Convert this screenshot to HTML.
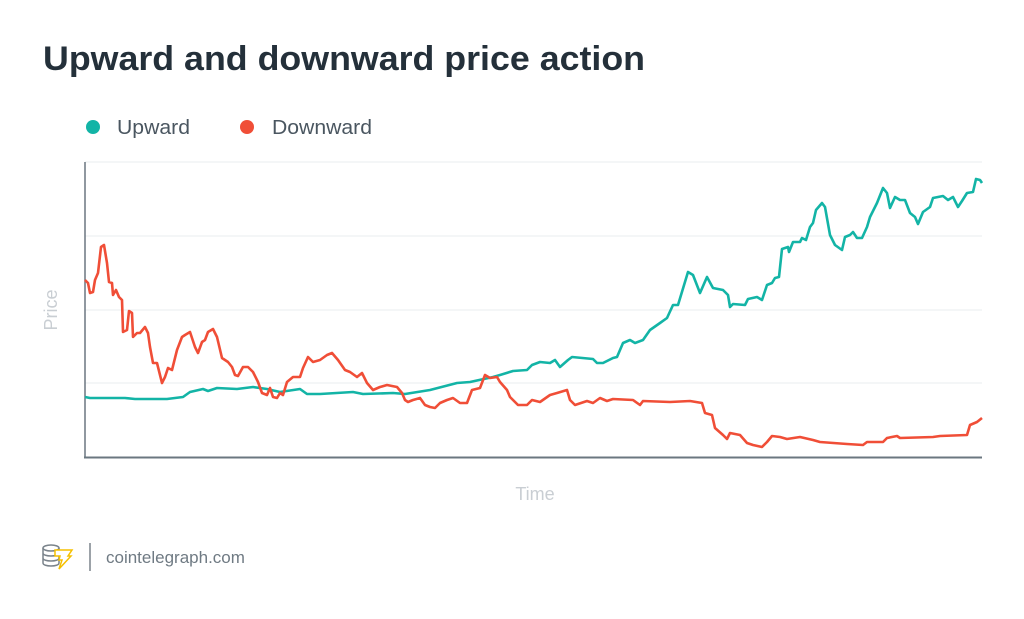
<!DOCTYPE html>
<html><head><meta charset="utf-8"><style>
body{margin:0;background:#fff;width:1024px;height:614px;overflow:hidden;font-family:"Liberation Sans",sans-serif}
</style></head><body>
<svg width="1024" height="614" viewBox="0 0 1024 614" xmlns="http://www.w3.org/2000/svg" font-family="Liberation Sans, sans-serif">
<text x="43" y="70" font-size="34" font-weight="bold" fill="#24303a" textLength="602" lengthAdjust="spacingAndGlyphs">Upward and downward price action</text>
<circle cx="93" cy="127" r="7" fill="#13b4a6"/>
<text x="117" y="134" font-size="20" fill="#4a5660" textLength="73" lengthAdjust="spacingAndGlyphs">Upward</text>
<circle cx="247" cy="127" r="7" fill="#f04e37"/>
<text x="272" y="134" font-size="20" fill="#4a5660" textLength="100" lengthAdjust="spacingAndGlyphs">Downward</text>
<g stroke="#eef0f2" stroke-width="1.2">
<line x1="85" y1="162" x2="982" y2="162"/><line x1="85" y1="236" x2="982" y2="236"/>
<line x1="85" y1="310" x2="982" y2="310"/><line x1="85" y1="383" x2="982" y2="383"/>
</g>
<line x1="85" y1="162" x2="85" y2="458" stroke="#6b7780" stroke-width="1.5"/>
<line x1="84" y1="457.5" x2="982" y2="457.5" stroke="#6b7780" stroke-width="2"/>
<text transform="translate(57,310) rotate(-90)" text-anchor="middle" font-size="18" fill="#c9ced3">Price</text>
<text x="535" y="500" text-anchor="middle" font-size="18" fill="#c9ced3">Time</text>
<polyline fill="none" stroke="#13b4a6" stroke-width="2.6" stroke-linejoin="round" points="85,397 90,398 125,398 135,399 167,399 183,397 190,392 203,389 208,391 217,388 237,389 253,387 267,389 280,392 300,389 307,394 320,394 353,392 363,394 393,393 405,394 430,390 457,383 470,382 493,377 500,375 513,371 527,370 532,365 540,362 550,363 555,360 560,367 568,360 572,357 593,359 597,363 603,363 613,358 617,357 623,343 630,340 635,343 643,340 650,330 660,323 667,318 673,305 678,305 688,272 693,275 700,293 707,277 713,288 723,290 728,295 730,307 733,304 745,305 748,299 757,297 762,300 767,285 772,283 775,278 779,277 782,249 788,247 789,252 793,242 800,242 802,238 806,240 810,227 813,223 816,210 822,203 825,207 830,235 835,245 842,250 845,237 850,235 853,232 857,238 862,238 867,227 870,217 877,203 883,188 887,193 890,208 895,197 900,200 905,200 910,213 915,217 918,224 923,212 930,207 933,198 943,196 948,200 953,197 958,207 962,201 967,193 973,192 976,179 980,180 982,183"/>
<polyline fill="none" stroke="#f04e37" stroke-width="2.6" stroke-linejoin="round" points="85,280 88,283 90,293 93,292 95,280 98,273 101,247 104,245 107,263 109,282 112,283 113,295 116,290 119,297 122,300 123,332 127,330 129,311 132,313 133,337 137,333 140,333 145,327 148,333 150,347 153,363 157,363 162,383 165,377 168,368 172,370 177,350 182,337 185,335 190,332 195,347 198,353 202,342 205,340 208,332 213,329 217,337 222,358 225,360 228,362 232,367 235,375 238,376 243,367 248,367 253,372 258,382 262,393 267,395 270,388 273,397 277,398 280,393 283,395 287,382 293,377 300,377 303,368 308,357 313,362 320,360 327,355 332,353 338,360 345,370 350,372 357,377 362,373 367,383 373,390 380,387 387,385 397,387 402,393 405,400 408,402 413,400 420,398 425,405 430,407 435,408 440,403 447,400 453,398 460,403 467,403 472,390 480,388 485,375 490,378 497,377 500,382 507,390 510,397 518,405 527,405 532,400 540,402 550,395 557,393 567,390 570,400 575,405 587,401 593,403 600,398 607,401 613,399 633,400 640,405 643,401 670,402 690,401 702,403 705,413 712,415 715,428 723,435 727,439 730,433 740,435 747,443 753,445 762,447 767,442 772,436 780,437 787,439 800,437 813,440 820,442 847,444 863,445 867,442 883,442 887,438 897,436 900,438 933,437 940,436 967,435 970,425 977,422 982,418"/>
<g transform="translate(42,545)" fill="none" stroke-width="1.5">
<path d="M1 3v15c0 2 4 3 8 3s8-1 8-3V3M1 8c0 2 4 3 8 3s8-1 8-3M1 13c0 2 4 3 8 3s8-1 8-3" stroke="#7a838b"/>
<ellipse cx="9" cy="3" rx="8" ry="3" stroke="#7a838b" fill="#fff"/>
<path d="M13 5h17l-4 6h3l-12 13 3-9h-3l1-4h-5z" stroke="#f5c000" fill="#fff"/>
</g>
<line x1="90" y1="543" x2="90" y2="571" stroke="#7a838b" stroke-width="1.5"/>
<text x="106" y="563" font-size="17" fill="#6f7a83">cointelegraph.com</text>
</svg>
</body></html>
